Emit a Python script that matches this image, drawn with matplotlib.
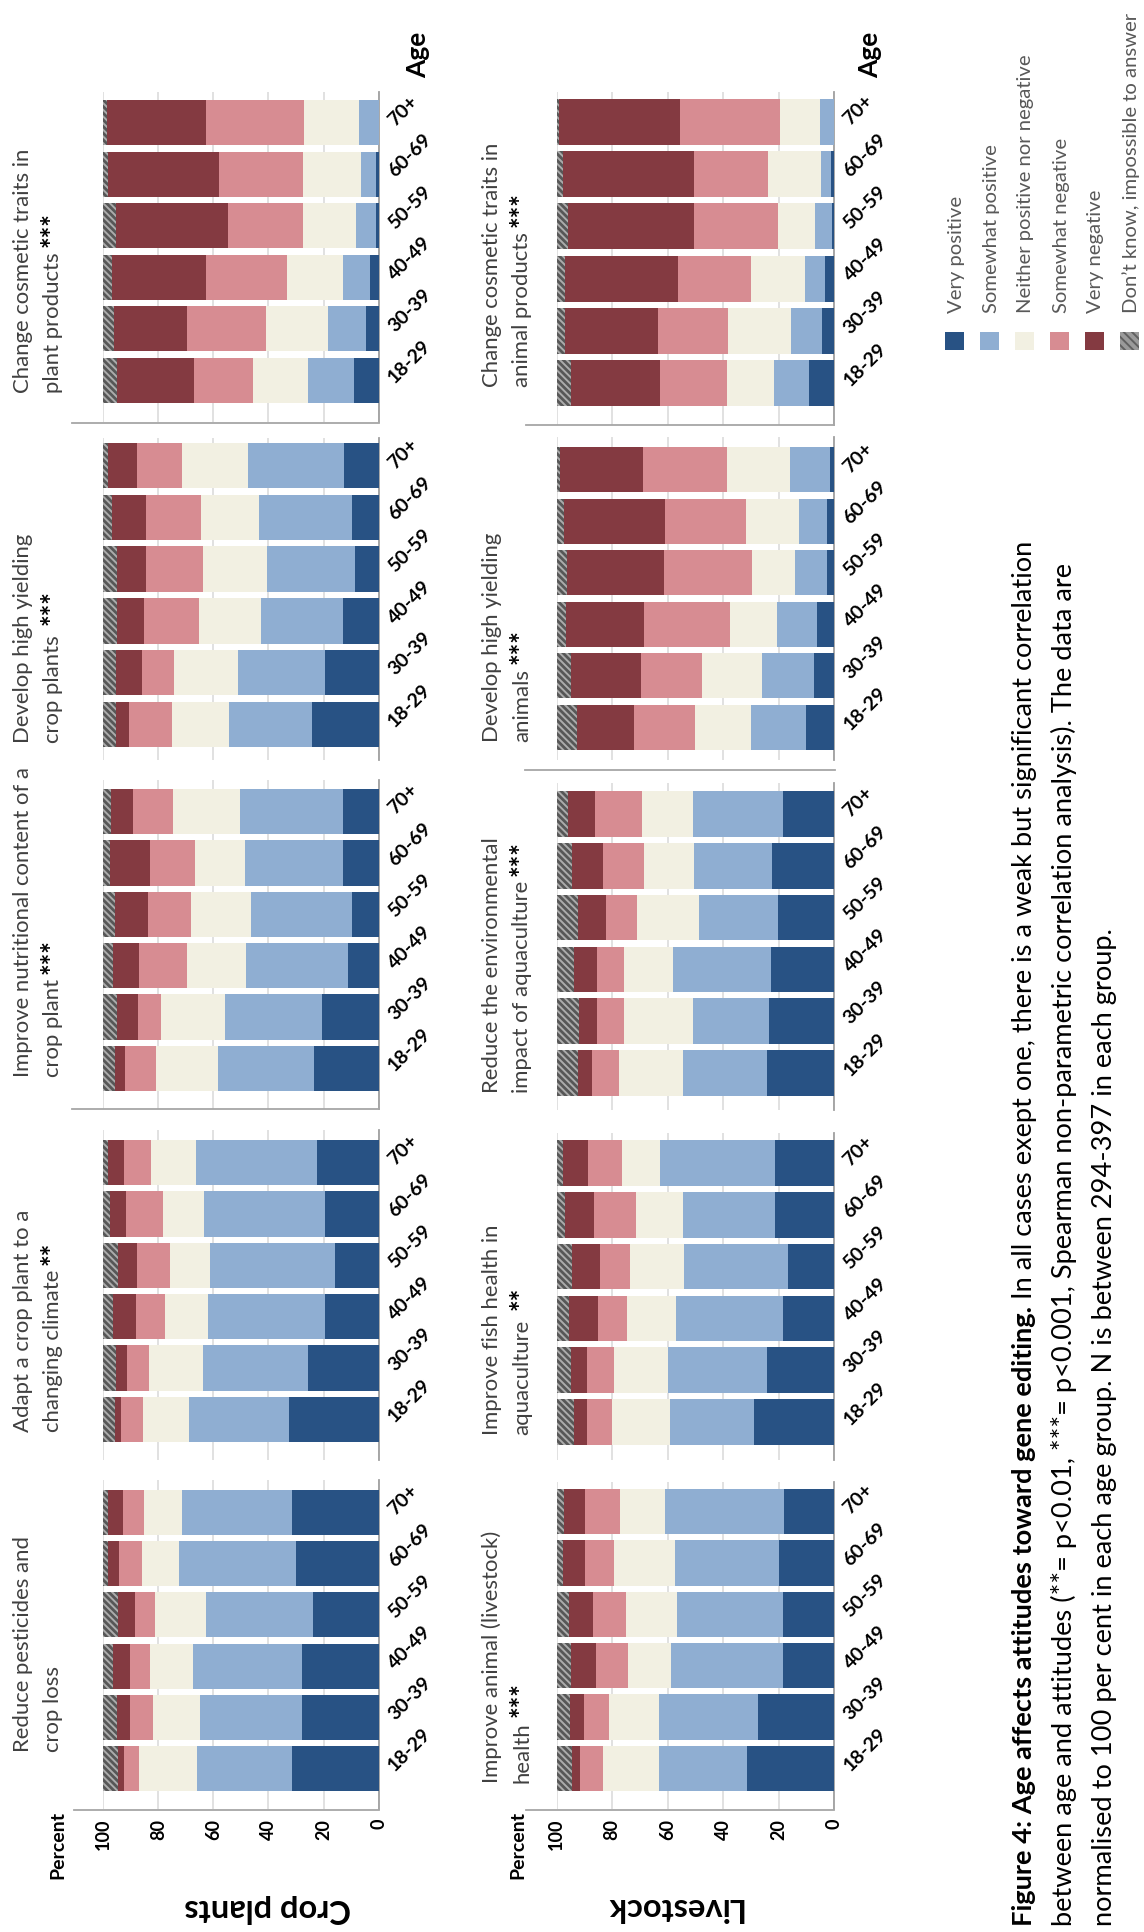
import matplotlib
matplotlib.use("Agg")
import matplotlib.pyplot as plt
from matplotlib.patches import Rectangle
from matplotlib.lines import Line2D
import numpy as np

plt.rcParams['font.family'] = ['Lato', 'DejaVu Sans']
plt.rcParams['hatch.linewidth'] = 1.4

# ---------------- data ----------------
ages = ["18-29", "30-39", "40-49", "50-59", "60-69", "70+"]
categories = ["Very positive", "Somewhat positive", "Neither positive nor negative",
              "Somewhat negative", "Very negative", "Don\u2019t know, impossible to answer"]

# rows: ages (18-29 ... 70+), columns: categories (VP, SP, N, SN, VN, DK)
reduce_pesticides = [[31.3, 34.5, 21.1, 5.7, 2.2, 5.2],
                     [27.8, 36.9, 17.2, 8.5, 4.8, 4.8],
                     [27.9, 39.4, 15.7, 7.3, 6.1, 3.6],
                     [23.9, 38.9, 18.3, 7.5, 6.2, 5.2],
                     [29.9, 42.6, 13.3, 8.6, 3.8, 1.8],
                     [31.5, 40.0, 13.7, 7.8, 5.4, 1.6]]
adapt_climate = [[32.5, 36.3, 16.7, 8.0, 2.1, 4.4],
                 [25.5, 38.4, 19.6, 8.0, 4.0, 4.5],
                 [19.6, 42.3, 15.8, 10.5, 8.4, 3.4],
                 [15.8, 45.3, 14.8, 11.7, 6.9, 5.5],
                 [19.6, 44.0, 14.7, 13.3, 6.0, 2.4],
                 [22.4, 43.8, 16.3, 9.9, 6.0, 1.6]]
improve_nutrition = [[23.5, 34.9, 22.4, 11.4, 3.7, 4.1],
                     [20.5, 35.3, 23.4, 8.3, 7.6, 4.9],
                     [11.2, 36.9, 21.4, 17.6, 9.2, 3.7],
                     [9.6, 36.8, 21.7, 15.5, 12.3, 4.1],
                     [12.9, 35.7, 18.1, 16.3, 14.5, 2.5],
                     [13.0, 37.2, 24.5, 14.6, 8.0, 2.7]]
high_yield_crops = [[24.1, 30.3, 20.8, 15.3, 4.9, 4.6],
                    [19.3, 31.7, 23.2, 11.8, 9.3, 4.7],
                    [13.1, 29.5, 22.5, 20.1, 10.0, 4.8],
                    [8.4, 32.0, 23.3, 20.7, 10.8, 4.8],
                    [9.5, 34.0, 20.9, 20.0, 12.6, 3.0],
                    [12.4, 34.9, 24.1, 16.5, 10.4, 1.7]]
cosmetic_plants = [[9.0, 16.7, 20.1, 21.3, 28.1, 4.8],
                   [4.6, 13.7, 22.5, 28.7, 26.5, 4.0],
                   [3.0, 10.0, 20.3, 29.5, 33.9, 3.3],
                   [1.0, 7.1, 19.4, 27.1, 40.9, 4.5],
                   [1.0, 5.3, 21.2, 30.3, 40.4, 1.8],
                   [0.0, 7.2, 19.9, 35.7, 35.8, 1.4]]
animal_health = [[31.4, 31.7, 20.1, 8.3, 3.1, 5.4],
                 [27.4, 35.7, 17.9, 9.1, 5.1, 4.8],
                 [18.3, 40.6, 15.5, 11.3, 9.3, 5.0],
                 [18.3, 38.4, 18.4, 11.9, 8.6, 4.4],
                 [20.0, 37.2, 22.1, 10.5, 8.0, 2.2],
                 [18.0, 42.9, 16.3, 12.6, 7.4, 2.8]]
fish_health = [[29.0, 30.0, 21.1, 9.1, 4.4, 6.4],
               [24.0, 35.9, 19.5, 9.5, 6.0, 5.1],
               [18.3, 38.6, 17.6, 10.6, 10.6, 4.3],
               [16.7, 37.5, 19.4, 10.7, 10.3, 5.4],
               [21.2, 33.1, 17.1, 15.3, 10.2, 3.1],
               [21.3, 41.5, 13.7, 12.1, 9.1, 2.3]]
aquaculture_env = [[24.0, 30.4, 23.2, 9.5, 5.1, 7.8],
                   [23.3, 27.4, 25.1, 9.5, 6.8, 7.9],
                   [22.7, 35.2, 17.9, 9.5, 8.3, 6.4],
                   [20.1, 28.6, 22.5, 10.9, 10.2, 7.7],
                   [22.2, 28.3, 18.0, 14.9, 11.2, 5.4],
                   [18.4, 32.4, 18.6, 16.7, 9.9, 4.0]]
high_yield_animals = [[10.0, 20.1, 20.0, 22.1, 20.6, 7.2],
                      [7.3, 18.7, 21.7, 22.0, 25.1, 5.2],
                      [6.2, 14.2, 17.0, 31.1, 28.1, 3.5],
                      [2.4, 11.6, 15.6, 31.8, 34.8, 3.8],
                      [2.4, 10.3, 19.2, 29.1, 36.4, 2.6],
                      [1.3, 14.5, 22.7, 30.4, 30.0, 1.1]]
cosmetic_animals = [[9.1, 12.5, 17.0, 24.3, 32.1, 5.0],
                    [4.4, 11.1, 22.7, 25.4, 33.4, 3.0],
                    [3.4, 6.9, 19.7, 26.1, 41.0, 2.9],
                    [0.7, 6.0, 13.4, 30.4, 45.5, 4.0],
                    [1.0, 3.8, 19.0, 26.7, 47.3, 2.2],
                    [0.0, 5.0, 14.5, 36.0, 43.5, 1.0]]

x_ticks = [0, 20, 40, 60, 80, 100]
x_tick_labels = ["0", "20", "40", "60", "80", "100"]

# ---------------- style ----------------
colors = ["#285284", "#8FAED2", "#F2F0E2", "#D78C92", "#843A41", "#575757"]
hatch_color = "#ACACAC"

W, H = 1144, 1932
fig = plt.figure(figsize=(W / 100, H / 100), dpi=100)


def fx(x):
    return x / W


def fy(y):
    return 1 - y / H


BAR_H = 0.88


def draw_panel(data, l, r, T, B, GT, GB, bottom_axis=False):
    p = (B - T) / (5 + BAR_H)
    ytop = 5 + BAR_H / 2 + (T - GT) / p
    ybot = 5 + BAR_H / 2 - (GB - T) / p
    ax = fig.add_axes([fx(l), fy(GB), (r - l) / W, (GB - GT) / H])
    arr = np.array(data)
    y = np.arange(len(ages))
    left = np.zeros(len(ages))
    for j in range(arr.shape[1]):
        if j == 5:
            ax.barh(y, arr[:, j], left=left, height=BAR_H, color=colors[j],
                    edgecolor=hatch_color, linewidth=0, hatch='\\\\\\\\\\', zorder=3)
        else:
            ax.barh(y, arr[:, j], left=left, height=BAR_H, color=colors[j],
                    linewidth=0, zorder=3)
        left += arr[:, j]
    ax.set_xlim(100, 0)
    ax.set_ylim(ybot, ytop)
    ax.set_xticks(x_ticks)
    ax.grid(axis='x', color='#D9D9D9', linewidth=1.1, zorder=0)
    ax.set_axisbelow(True)
    for s in ['top', 'left', 'bottom']:
        ax.spines[s].set_visible(False)
    ax.spines['right'].set_color('#A0A0A0')
    ax.spines['right'].set_linewidth(1.3)
    ax.yaxis.tick_right()
    ax.set_yticks(y)
    ax.set_yticklabels(ages, rotation=45, rotation_mode='anchor', ha='left',
                       va='center', fontweight='bold', fontsize=14)
    ax.tick_params(axis='y', length=0, pad=9)
    if bottom_axis:
        ax.set_xticklabels(x_tick_labels, rotation=90, fontweight='bold', fontsize=13)
        ax.tick_params(axis='x', length=0, pad=7)
    else:
        ax.tick_params(axis='x', length=0, labelbottom=False)
    return ax


crop_lr = (103.3, 378.6)
live_lr = (556.7, 834.0)

crop_panels = [
    (cosmetic_plants, 100, 403, 92, 422, False),
    (high_yield_crops, 443, 747, 438, 760, False),
    (improve_nutrition, 789, 1091, 780, 1109, False),
    (adapt_climate, 1140, 1442, 1130, 1460, False),
    (reduce_pesticides, 1490, 1791, 1480, 1809, True),
]
live_panels = [
    (cosmetic_animals, 99, 406, 92, 425, False),
    (high_yield_animals, 447, 750, 437, 760, False),
    (aquaculture_env, 791, 1096, 783, 1110, False),
    (fish_health, 1140, 1445, 1133, 1460, False),
    (animal_health, 1489, 1791, 1482, 1809, True),
]
for d, T, B, GT, GB, ba in crop_panels:
    draw_panel(d, crop_lr[0], crop_lr[1], T, B, GT, GB, ba)
for d, T, B, GT, GB, ba in live_panels:
    draw_panel(d, live_lr[0], live_lr[1], T, B, GT, GB, ba)

# separator / axis lines
for (x0, x1, yy) in [(74, 379, 1810), (72, 379, 1109), (72, 379, 423),
                     (526, 834, 1810), (525, 835, 770), (526, 834, 425)]:
    fig.add_artist(Line2D([fx(x0), fx(x1)], [fy(yy), fy(yy)], color='#A6A6A6',
                          linewidth=1.3, transform=fig.transFigure))

# ---------------- texts ----------------
TITLE_FS = 15.9
title_col = '#404040'
crop_titles = [
    ("Change cosmetic traits in", "plant products", "***", 393, 1),
    ("Develop high yielding", "crop plants", "***", 743, 2),
    ("Improve nutritional content of a", "crop plant", "***", 1077, 1),
    ("Adapt a crop plant to a", "changing climate", "**", 1432, 1),
    ("Reduce pesticides and", "crop loss", "", 1752, 1),
]
live_titles = [
    ("Change cosmetic traits in", "animal products", "***", 387, 1),
    ("Develop high yielding", "animals", "***", 742, 1),
    ("Reduce the environmental", "impact of aquaculture", "***", 1093, 1),
    ("Improve fish health in", "aquaculture", "**", 1435, 2),
    ("Improve animal (livestock)", "health", "***", 1783, 1),
]

star_jobs = []


def rtext(x, y, s, **kw):
    return fig.text(fx(x), fy(y), s, rotation=90, rotation_mode='anchor', **kw)


for titles, b1, b2 in [(crop_titles, 29, 59), (live_titles, 498, 528)]:
    for l1, l2, stars, start, nsp in titles:
        rtext(b1, start, l1, ha='left', va='baseline', fontsize=TITLE_FS, color=title_col)
        t2 = rtext(b2, start, l2, ha='left', va='baseline', fontsize=TITLE_FS, color=title_col)
        if stars:
            star_jobs.append((t2, b2, stars, nsp))

# Age labels
rtext(426, 78, "Age", ha='left', va='baseline', fontsize=19, fontweight='bold')
rtext(878, 78, "Age", ha='left', va='baseline', fontsize=19, fontweight='bold')

# Percent labels
rtext(63, 1811, "Percent", ha='right', va='baseline', fontsize=14, fontweight='bold')
rtext(523, 1811, "Percent", ha='right', va='baseline', fontsize=14, fontweight='bold')

# Row labels (upside down)
fig.text(fx(268), fy(1908), "Crop plants", rotation=180, ha='center', va='center',
         fontsize=23.5, fontweight='bold')
fig.text(fx(673), fy(1908), "Livestock", rotation=180, ha='center', va='center',
         fontsize=23.5, fontweight='bold')

# Legend
leg_x = [954.5, 989.5, 1024.5, 1059.5, 1094.5, 1129.5]
for i, (cx, lab) in enumerate(zip(leg_x, categories)):
    if i == 5:
        rect = Rectangle((fx(cx - 9.5), fy(350)), 19 / W, 18 / H, transform=fig.transFigure,
                         facecolor='#9A9A9A', edgecolor='#606060', linewidth=0,
                         hatch='\\\\\\\\')
    else:
        rect = Rectangle((fx(cx - 9.5), fy(350)), 19 / W, 18 / H, transform=fig.transFigure,
                         facecolor=colors[i], edgecolor='none', linewidth=0)
    fig.add_artist(rect)
    rtext(cx + 7, 313, lab, ha='left', va='baseline', fontsize=14.6, color='#595959')

# Caption
CAP_FS = 19.6
cap_bold = "Figure 4: Age affects attitudes toward gene editing."
cap_l1 = "In all cases exept one, there is a weak but significant correlation"
cap_l2 = ("between age and attitudes (**= p<0.01, ***= p<0.001, Spearman non-parametric "
          "correlation analysis). The data are")
cap_l3 = "normalised to 100 per cent in each age group. N is between 294-397 in each group."
cb = rtext(1032, 1926, cap_bold, ha='left', va='baseline', fontsize=CAP_FS, fontweight='bold')
rtext(1072, 1926, cap_l2, ha='left', va='baseline', fontsize=CAP_FS)
rtext(1112, 1926, cap_l3, ha='left', va='baseline', fontsize=CAP_FS)

renderer = fig.canvas.get_renderer()
bb = cb.get_window_extent(renderer)
fig.text(fx(1032), (bb.y1 + 7) / H, cap_l1, rotation=90, rotation_mode='anchor',
         ha='left', va='baseline', fontsize=CAP_FS)

for t2, b2, stars, nsp in star_jobs:
    bb = t2.get_window_extent(renderer)
    fig.text(fx(b2 + 2), (bb.y1 + 5 * nsp) / H, stars, rotation=90, rotation_mode='anchor',
             ha='left', va='baseline', fontsize=TITLE_FS + 4, fontweight='bold', color='black')

fig.savefig("out.png", dpi=100)
